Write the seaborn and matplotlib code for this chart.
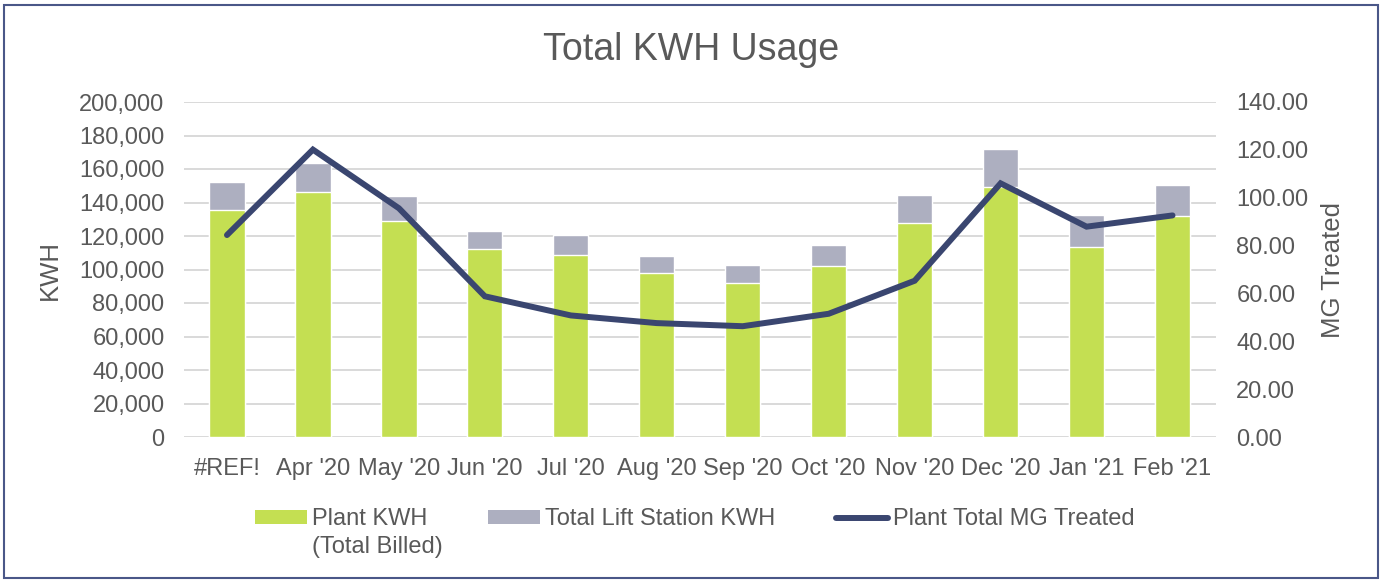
import matplotlib
matplotlib.use("Agg")
import matplotlib.pyplot as plt
import matplotlib.ticker as mticker
from matplotlib.patches import Rectangle, Patch
from matplotlib.lines import Line2D
import seaborn as sns
import pandas as pd
import numpy as np

months = ["#REF!", "Apr '20", "May '20", "Jun '20", "Jul '20", "Aug '20",
          "Sep '20", "Oct '20", "Nov '20", "Dec '20", "Jan '21", "Feb '21"]
plant_kwh = [135500, 146500, 128800, 112300, 108500, 98200,
             91900, 102200, 128000, 149500, 113500, 131900]
lift_kwh = [16700, 16800, 15000, 10500, 11900, 9900,
            10700, 12500, 16200, 22700, 19000, 18700]
mg_treated = [84.4, 120.1, 95.6, 58.8, 50.8, 47.6,
              46.3, 51.5, 65.3, 106.0, 87.9, 92.6]

df = pd.DataFrame({"month": months, "plant": plant_kwh, "lift": lift_kwh, "mg": mg_treated})
df["total"] = df["plant"] + df["lift"]

GREEN = "#C4DF52"
GRAY = "#ADAFC0"
NAVY = "#3A4670"
TXT = "#595959"
GRID = "#D9D9D9"

sns.set_theme(style="white")
plt.rcParams["font.family"] = ["Liberation Sans", "DejaVu Sans"]

W, H = 1382, 582
fig = plt.figure(figsize=(W / 100, H / 100), dpi=100)
L, R, B, T = 184, 1215.5, 437, 102
ax = fig.add_axes([L / W, (H - B) / H, (R - L) / W, (B - T) / H])

sns.barplot(data=df, x="month", y="total", color=GRAY, width=0.41,
            saturation=1, ax=ax, zorder=2, order=months)
sns.barplot(data=df, x="month", y="plant", color=GREEN, width=0.41,
            saturation=1, ax=ax, zorder=3, order=months)
ax.set_ylim(0, 200000)
ax.set_yticks(np.arange(0, 200001, 20000))
ax.yaxis.set_major_formatter(mticker.FuncFormatter(lambda v, p: f"{int(v):,}"))
ax.grid(axis="y", color=GRID, linewidth=1.4, zorder=0)
ax.set_axisbelow(True)
for s in ax.spines.values():
    s.set_visible(False)
ax.tick_params(axis="both", length=0, labelsize=17, colors=TXT)
ax.tick_params(axis="y", pad=14)
ax.tick_params(axis="x", pad=15)
ax.set_xlabel("")
ax.set_ylabel("KWH", fontsize=18.5, color=TXT)
ax.yaxis.label.set_va("center")
ax.yaxis.set_label_coords((50 - L) / (R - L), 0.5)

ax2 = ax.twinx()
sns.lineplot(x=np.arange(len(months)), y=df["mg"], color=NAVY, linewidth=4.3,
             ax=ax2, sort=False, solid_capstyle="round", solid_joinstyle="miter")
ax2.set_ylim(0, 140)
ax2.set_yticks(np.arange(0, 141, 20))
ax2.yaxis.set_major_formatter(mticker.FormatStrFormatter("%.2f"))
for s in ax2.spines.values():
    s.set_visible(False)
ax2.tick_params(axis="y", length=0, labelsize=17, colors=TXT, pad=15)
ax2.set_ylabel("MG Treated", fontsize=18.5, color=TXT, rotation=90)
ax2.yaxis.label.set_va("center")
ax2.yaxis.set_label_coords((1333 - L) / (R - L), 0.5)
ax2.grid(False)
ax.set_xlim(-0.5, len(months) - 0.5)
ax2.set_xlim(-0.5, len(months) - 0.5)

fig.text(0.5, 1 - 50 / H, "Total KWH Usage", ha="center", va="center",
         fontsize=27, color=TXT)

handles = [Patch(facecolor=GREEN, edgecolor="none"),
           Patch(facecolor=GRAY, edgecolor="none"),
           Line2D([], [], color=NAVY, linewidth=4.3, solid_capstyle="round")]
labels = ["Plant KWH", "Total Lift Station KWH", "Plant Total MG Treated"]
leg = fig.legend(handles, labels, loc="upper left", bbox_to_anchor=(246 / W, 1 - 499 / H),
                 ncol=3, frameon=False, fontsize=17, handlelength=2.2, handleheight=0.5,
                 handletextpad=0.2, columnspacing=2.58, labelcolor=TXT, borderaxespad=0)

fig.canvas.draw()
t0 = leg.get_texts()[0]
bb = t0.get_window_extent(fig.canvas.get_renderer())
fig.text(bb.x0 / W, (bb.y0 - 28) / H, "(Total Billed)", ha="left", va="bottom",
         fontsize=17, color=TXT)

fig.patches.append(Rectangle((4 / W, 4 / H), (W - 8) / W, (H - 9) / H,
                             transform=fig.transFigure, fill=False,
                             edgecolor="#4A5788", linewidth=1.5))

fig.savefig("out.png", dpi=100)
